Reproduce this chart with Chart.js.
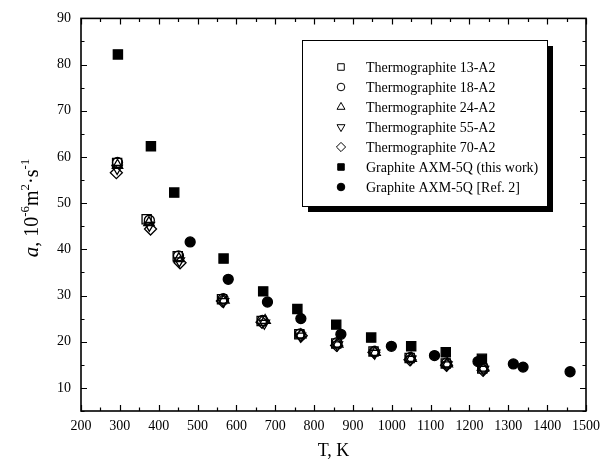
<!DOCTYPE html>
<html>
<head>
<meta charset="utf-8">
<script src="https://cdn.jsdelivr.net/npm/chart.js@4.4.0/dist/chart.umd.min.js"></script>
<style>
html, body { margin: 0; padding: 0; background: #fff; }
#wrap { width: 614px; height: 468px; }
</style>
</head>
<body>
<div id="wrap"><canvas id="diffChart"></canvas></div>
<script>
// series labels
var seriesNames = [
    "Thermographite 13-A2",
    "Thermographite 18-A2",
    "Thermographite 24-A2",
    "Thermographite 55-A2",
    "Thermographite 70-A2",
    "Graphite AXM-5Q (this work)",
    "Graphite AXM-5Q [Ref. 2]"
];

// temperature, K  /  diffusivity, 10^-6 m2/s
var thermo13T = [293, 369, 449, 563, 665, 762, 857, 953, 1046, 1139, 1233];
var thermo13A = [58.7, 46.5, 38.5, 29.2, 24.5, 21.6, 19.6, 17.9, 16.5, 15.3, 14.2];
var thermo18T = [294, 376, 451, 566, 667, 764, 859, 955, 1048, 1141, 1235];
var thermo18A = [58.8, 46.3, 38.6, 29.3, 24.6, 21.7, 19.8, 17.9, 16.6, 15.4, 14.5];
var thermo24T = [294, 375, 452, 568, 674, 766, 861, 957, 1050, 1143, 1236];
var thermo24A = [58.2, 45.8, 38.0, 29.0, 24.6, 21.5, 19.5, 17.7, 16.4, 15.2, 14.3];
var thermo55T = [293, 376, 453, 567, 672, 765, 860, 956, 1049, 1142, 1236];
var thermo55A = [57.5, 45.2, 37.5, 28.7, 24.0, 21.2, 19.3, 17.5, 16.2, 15.0, 14.0];
var thermo70T = [291, 379, 455, 564, 666, 767, 858, 954, 1047, 1141, 1235];
var thermo70A = [56.6, 44.4, 37.1, 28.8, 24.2, 21.3, 19.2, 17.7, 16.1, 14.9, 13.8];
var axmOwnT = [295, 380, 440, 567, 669, 757, 857, 947, 1050, 1139, 1232];
var axmOwnA = [82.2, 62.3, 52.3, 38.0, 30.9, 27.1, 23.7, 20.9, 19.0, 17.7, 16.3];
var axmRefT = [481, 579, 680, 766, 869, 999, 1110, 1222, 1313, 1338, 1459];
var axmRefA = [41.6, 33.5, 28.6, 25.0, 21.6, 19.0, 17.0, 15.7, 15.2, 14.5, 13.5];

// axes
var xMin = 200, xMax = 1500, xStep = 100;
var yMin = 5, yMax = 90, yStep = 10;
var xTitle = "T, K";

var serif = "'Liberation Serif', 'Times New Roman', serif";

function toPoints(xs, ys){
    var pts = [];
    xs.forEach((x, i) => {
        pts.push({x: x, y: ys[i]});
    });
    return pts;
}

function makeSet(i, xs, ys, style, filled, rot){
    return {
        label: seriesNames[i],
        data: toPoints(xs, ys),
        pointStyle: style,
        rotation: rot || 0,
        pointRadius: style == "circle" ? 5 : (style == "rect" ? 6.5 : 6),
        pointBorderWidth: 1.3,
        borderColor: "#000",
        backgroundColor: filled ? "#000" : "rgba(0,0,0,0)",
        showLine: false
    };
}

var frameTicks = {
    id: "frameTicks",
    beforeDatasetsDraw(chart){
        var ctx = chart.ctx;
        var a = chart.chartArea;
        var xs = chart.scales.x, ys = chart.scales.y;
        ctx.save();
        ctx.strokeStyle = "#000";
        ctx.lineWidth = 1.6;
        ctx.strokeRect(a.left, a.top, a.right - a.left, a.bottom - a.top);
        ctx.lineWidth = 1.2;
        ctx.beginPath();
        for(var v = xMin; v <= xMax; v += xStep / 2){
            var len = (v % xStep == 0) ? 6 : 3.5;
            var px = Math.round(xs.getPixelForValue(v)) + 0.5;
            ctx.moveTo(px, a.bottom); ctx.lineTo(px, a.bottom - len);
            ctx.moveTo(px, a.top); ctx.lineTo(px, a.top + len);
        }
        for(var w = yMin; w <= yMax; w += yStep / 2){
            var len2 = (w % yStep == 0) ? 6 : 3.5;
            var py = Math.round(ys.getPixelForValue(w)) + 0.5;
            ctx.moveTo(a.left, py); ctx.lineTo(a.left + len2, py);
            ctx.moveTo(a.right, py); ctx.lineTo(a.right - len2, py);
        }
        ctx.stroke();

        // x title
        ctx.fillStyle = "#000";
        ctx.font = "18px " + serif;
        ctx.textAlign = "center";
        ctx.textBaseline = "middle";
        ctx.fillText(xTitle, (a.left + a.right) / 2, 451);

        // y title, built from pieces for italics and superscripts
        var parts = [
            {t: "a", f: "italic 21px " + serif, dy: 0},
            {t: ", 10", f: "20px " + serif, dy: 0},
            {t: "-6", f: "13px " + serif, dy: -9},
            {t: "m", f: "20px " + serif, dy: 0},
            {t: "2", f: "13px " + serif, dy: -9},
            {t: "\u00b7s", f: "20px " + serif, dy: 0},
            {t: "-1", f: "13px " + serif, dy: -9}
        ];
        var total = 0;
        parts.forEach(p => {
            ctx.font = p.f;
            p.w = ctx.measureText(p.t).width;
            total += p.w;
        });
        ctx.translate(31, 208);
        ctx.rotate(-Math.PI / 2);
        ctx.textAlign = "left";
        ctx.textBaseline = "alphabetic";
        var cx = -total / 2;
        parts.forEach(p => {
            ctx.font = p.f;
            ctx.fillText(p.t, cx, 7 + p.dy);
            cx += p.w;
        });
        ctx.restore();
    }
};

var boxLegend = {
    id: "boxLegend",
    afterDatasetsDraw(chart){
        var ctx = chart.ctx;
        var bx = 302, by = 40, bw = 245, bh = 166, sh = 6;
        var rowTop = 67, rowGap = 20;
        ctx.save();
        ctx.fillStyle = "#000";
        ctx.fillRect(bx + sh, by + sh, bw, bh);
        ctx.fillStyle = "#fff";
        ctx.fillRect(bx, by, bw, bh);
        ctx.strokeStyle = "#000";
        ctx.lineWidth = 1;
        ctx.strokeRect(bx + 0.5, by + 0.5, bw, bh);
        chart.data.datasets.forEach((ds, i) => {
            var y = rowTop + i * rowGap;
            ctx.fillStyle = ds.backgroundColor;
            ctx.strokeStyle = "#000";
            ctx.lineWidth = 1;
            Chart.helpers.drawPoint(ctx, {
                pointStyle: ds.pointStyle,
                rotation: ds.rotation,
                radius: ds.pointStyle == "circle" ? 3.8 : 4.6,
                borderWidth: 1
            }, 341, y);
            ctx.fillStyle = "#000";
            ctx.font = "14px " + serif;
            ctx.textAlign = "left";
            ctx.textBaseline = "middle";
            ctx.fillText(ds.label, 366, y + 1);
        });
        ctx.restore();
    }
};

var chartCfg = {
    type: "scatter",
    data: {
        datasets: [
            makeSet(0, thermo13T, thermo13A, "rect", false),
            makeSet(1, thermo18T, thermo18A, "circle", false),
            makeSet(2, thermo24T, thermo24A, "triangle", false),
            makeSet(3, thermo55T, thermo55A, "triangle", false, 180),
            makeSet(4, thermo70T, thermo70A, "rectRot", false),
            makeSet(5, axmOwnT, axmOwnA, "rect", true),
            makeSet(6, axmRefT, axmRefA, "circle", true)
        ]
    },
    options: {
        responsive: true,
        maintainAspectRatio: false,
        animation: false,
        devicePixelRatio: 1,
        layout: {padding: {left: 0, top: 17, right: 28, bottom: 0}},
        plugins: {
            legend: {display: false},
            tooltip: {enabled: false},
            title: {display: false}
        },
        scales: {
            x: {
                type: "linear",
                min: xMin,
                max: xMax,
                grid: {display: false, drawTicks: false},
                border: {display: false},
                ticks: {stepSize: xStep, color: "#000", padding: 7, maxRotation: 0,
                        autoSkip: false,
                        font: {family: serif, size: 14},
                        callback: v => String(v)},
                afterFit(s){ s.height = 57; }
            },
            y: {
                type: "linear",
                min: yMin,
                max: yMax,
                afterBuildTicks(s){
                    var t = [];
                    for(var v = 10; v <= yMax; v += yStep){ t.push({value: v}); }
                    s.ticks = t;
                },
                grid: {display: false, drawTicks: false},
                border: {display: false},
                ticks: {color: "#000", padding: 10, font: {family: serif, size: 14},
                        callback: v => String(v)},
                afterFit(s){ s.width = 81; }
            }
        }
    },
    plugins: [frameTicks, boxLegend]
};

new Chart("diffChart", chartCfg);
</script>
</body>
</html>
